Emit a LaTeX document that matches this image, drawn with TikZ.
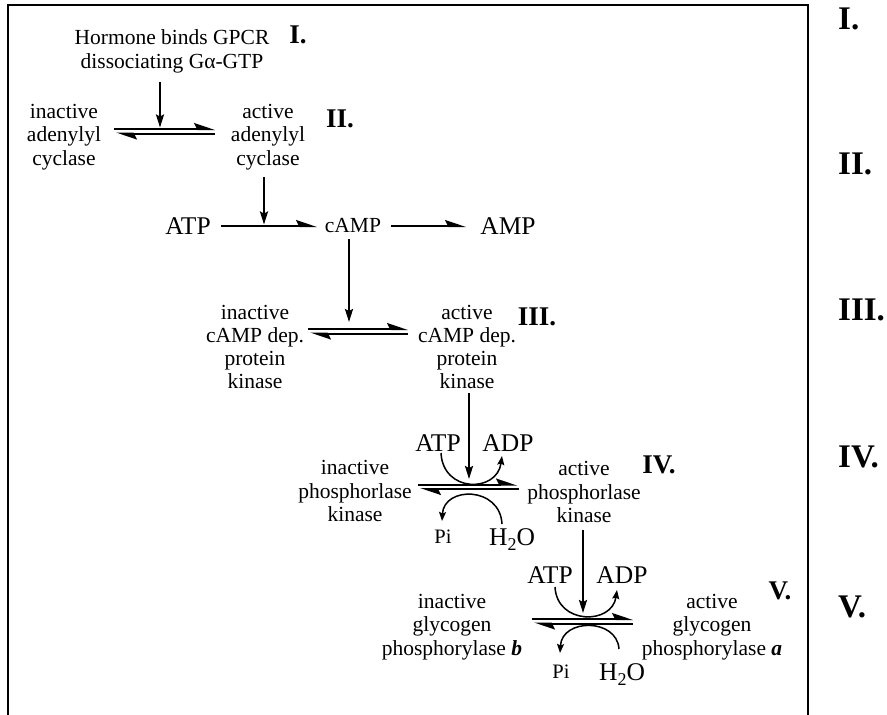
\documentclass[tikz,border=0pt]{standalone}
\usepackage{fontspec}
\setmainfont{Liberation Serif}
\usetikzlibrary{arrows.meta}
\begin{document}
\begin{tikzpicture}[x=1pt,y=-1pt,
  txt/.style={font=\fontsize{21.5}{23.3}\selectfont, align=center, inner sep=0pt},
  big/.style={font=\fontsize{25.5}{28}\selectfont, inner sep=0pt},
  pi/.style={font=\fontsize{20.5}{22}\selectfont, inner sep=0pt},
  rom/.style={font=\fontsize{27}{30}\selectfont\bfseries, inner sep=0pt},
  romr/.style={font=\fontsize{33}{36}\selectfont\bfseries, inner sep=0pt, anchor=west},
  varr/.style={line width=2pt, -{Stealth[length=13pt,width=8pt,inset=2pt]}},
  harp/.style={line width=2pt, -{Stealth[harpoon,length=18pt,width=12pt,inset=3pt]}},
  arc/.style={line width=1.5pt, -{Stealth[length=9pt,width=7pt,inset=1.5pt]}},
  frame/.style={line width=2pt}
]
\useasboundingbox (0,0) rectangle (887,715);
\draw[frame] (8,717) -- (8,5) -- (808,5) -- (808,717);

% texts
\node[txt] (hor) at (172,51.5) {Hormone binds GPCR\\dissociating Gα-GTP};
\node[rom] (r1) at (298,35) {I.};
\node[txt] (iac) at (64,137) {inactive\\adenylyl\\cyclase};
\node[txt] (aac) at (268,137) {active\\adenylyl\\cyclase};
\node[rom] (r2) at (340,119) {II.};
\node[big] (atp1) at (188,226) {ATP};
\node[txt] (camp) at (353,226) {cAMP};
\node[big] (amp) at (508,226) {AMP};
\node[txt] (icpk) at (255,347) {inactive\\cAMP dep.\\protein\\kinase};
\node[txt] (acpk) at (467,347) {active\\cAMP dep.\\protein\\kinase};
\node[rom] (r3) at (537,317) {III.};
\node[big] (atp2) at (438,443) {ATP};
\node[big] (adp2) at (508,443) {ADP};
\node[txt] (iphk) at (355,491) {inactive\\phosphorlase\\kinase};
\node[txt] (aphk) at (584,492) {active\\phosphorlase\\kinase};
\node[rom] (r4) at (659,465) {IV.};
\node[pi] (pi2) at (443,537) {Pi};
\node[big] (hho2) at (512,540) {H\raisebox{-5pt}{\fontsize{18}{18}\selectfont 2}O};
\node[big] (atp3) at (550,575) {ATP};
\node[big] (adp3) at (622,575) {ADP};
\node[txt] (igp) at (452,627) {inactive\\glycogen\\phosphorylase \textbf{\textit{b}}};
\node[txt] (agp) at (712,627) {active\\glycogen\\phosphorylase \textbf{\textit{a}}};
\node[rom] (r5) at (780,591) {V.};
\node[pi] (pi3) at (561,672) {Pi};
\node[big] (hho3) at (622,675) {H\raisebox{-5pt}{\fontsize{18}{18}\selectfont 2}O};

% right column
\node[romr] (c1) at (838,19) {I.};
\node[romr] (c2) at (838,163.5) {II.};
\node[romr] (c3) at (838,310) {III.};
\node[romr] (c4) at (838,457) {IV.};
\node[romr] (c5) at (838,607) {V.};

% equilibrium II
\coordinate (e2a) at (114,129); \coordinate (e2b) at (215,129);
\coordinate (e2c) at (215,133.5); \coordinate (e2d) at (116,133.5);
\draw[harp] (e2a) -- (e2b);
\draw[harp] (e2c) -- (e2d);
\coordinate (v1a) at (160,82); \coordinate (v1b) at (160,127.5);
\draw[varr] (v1a) -- (v1b);

% ATP -> cAMP -> AMP
\coordinate (v2a) at (264,177); \coordinate (v2b) at (264,224.5);
\draw[varr] (v2a) -- (v2b);
\coordinate (h1a) at (221,226); \coordinate (h1b) at (317,226);
\draw[harp] (h1a) -- (h1b);
\coordinate (h2a) at (391,226); \coordinate (h2b) at (466,226);
\draw[harp] (h2a) -- (h2b);

% equilibrium III
\coordinate (v3a) at (349,239); \coordinate (v3b) at (349,322);
\draw[varr] (v3a) -- (v3b);
\coordinate (e3a) at (308,329); \coordinate (e3b) at (408,329);
\coordinate (e3c) at (408,333.5); \coordinate (e3d) at (310,333.5);
\draw[harp] (e3a) -- (e3b);
\draw[harp] (e3c) -- (e3d);

% equilibrium IV
\coordinate (v4a) at (469,393); \coordinate (v4b) at (469,479);
\draw[varr] (v4a) -- (v4b);
\coordinate (e4a) at (418,484.5); \coordinate (e4b) at (517,484.5);
\coordinate (e4c) at (519,489); \coordinate (e4d) at (420,489);
\draw[harp] (e4a) -- (e4b);
\draw[harp] (e4c) -- (e4d);
\coordinate (a4a) at (441,453); \coordinate (a4b) at (502,456);
\draw[arc] (a4a) .. controls (443,493) and (497,493) .. (a4b);
\coordinate (a4c) at (502,524); \coordinate (a4d) at (442,521);
\draw[arc] (a4c) .. controls (500,486) and (444,486) .. (a4d);

% equilibrium V
\coordinate (v5a) at (583,530); \coordinate (v5b) at (583,613);
\draw[varr] (v5a) -- (v5b);
\coordinate (e5a) at (532,619); \coordinate (e5b) at (633,619);
\coordinate (e5c) at (633,623.5); \coordinate (e5d) at (534,623.5);
\draw[harp] (e5a) -- (e5b);
\draw[harp] (e5c) -- (e5d);
\coordinate (a5a) at (555,587); \coordinate (a5b) at (617,590);
\draw[arc] (a5a) .. controls (557,625) and (612,625) .. (a5b);
\coordinate (a5c) at (619,649); \coordinate (a5d) at (560,653);
\draw[arc] (a5c) .. controls (617,618) and (562,618) .. (a5d);
\end{tikzpicture}
\end{document}
